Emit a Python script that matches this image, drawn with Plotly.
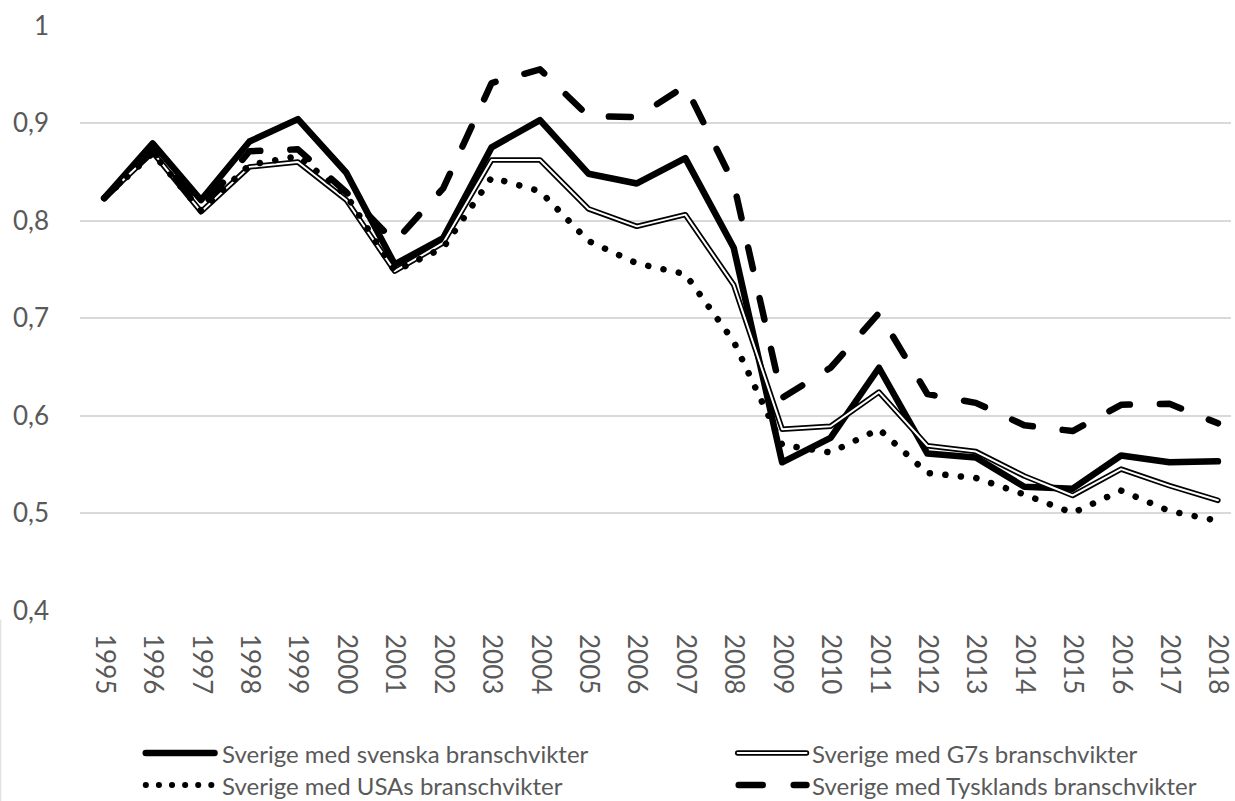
import plotly.graph_objects as go

years = [str(y) for y in range(1995, 2019)]

svenska = [0.823, 0.879, 0.821, 0.881, 0.904, 0.849, 0.755, 0.782, 0.875, 0.903, 0.848, 0.838,
           0.864, 0.772, 0.552, 0.577, 0.649, 0.561, 0.557, 0.527, 0.525, 0.559, 0.552, 0.553]
g7 = [0.823, 0.870, 0.809, 0.855, 0.860, 0.821, 0.748, 0.777, 0.862, 0.862, 0.812, 0.794,
      0.806, 0.734, 0.586, 0.589, 0.624, 0.569, 0.563, 0.538, 0.518, 0.545, 0.528, 0.513]
usa = [0.823, 0.869, 0.810, 0.857, 0.866, 0.826, 0.748, 0.772, 0.844, 0.830, 0.779, 0.756,
       0.745, 0.676, 0.570, 0.562, 0.586, 0.541, 0.536, 0.519, 0.500, 0.523, 0.502, 0.492]
tyskland = [0.823, 0.872, 0.812, 0.871, 0.873, 0.829, 0.778, 0.833, 0.941, 0.955, 0.907, 0.906,
            0.938, 0.838, 0.618, 0.649, 0.705, 0.622, 0.613, 0.590, 0.584, 0.611, 0.612, 0.592]

names = ["Sverige med svenska branschvikter", "Sverige med G7s branschvikter",
         "Sverige med USAs branschvikter", "Sverige med Tysklands branschvikter"]

ytick_vals = [0.4, 0.5, 0.6, 0.7, 0.8, 0.9, 1.0]
ytick_text = ["0,4", "0,5", "0,6", "0,7", "0,8", "0,9", "1"]

FONT = "Lato"
GREY = "#595959"
DOT = "0.1px,15.5px"
DASH = "22px,30px"

fig = go.Figure()
fig.add_trace(go.Scatter(x=years, y=svenska, mode="lines", name=names[0],
                         line=dict(color="black", width=6.5), showlegend=False))
fig.add_trace(go.Scatter(x=years, y=g7, mode="lines", name=names[1],
                         line=dict(color="black", width=5.5), showlegend=False))
fig.add_trace(go.Scatter(x=years, y=g7, mode="lines", name=names[1] + " (inner)",
                         line=dict(color="white", width=2), showlegend=False, hoverinfo="skip"))
fig.add_trace(go.Scatter(x=years, y=usa, mode="lines", name=names[2],
                         line=dict(color="black", width=6.5, dash=DOT), showlegend=False))
fig.add_trace(go.Scatter(x=years, y=tyskland, mode="lines", name=names[3],
                         line=dict(color="black", width=6.5, dash=DASH), showlegend=False))

# plot area geometry (pixels)
L, R, T, B = 80, 1235, 25, 611
W, H = R - L, B - T


def px(x):
    return (x - L) / W


def py(y):
    return (B - y) / H


# manual legend
legend_items = [
    (names[0], 146, 215, 221, 753, "solid", 6.5, None),
    (names[1], 740, 809, 814, 753, "solid", 5.5, "double"),
    (names[2], 146, 213, 221, 785, "0.1px,13px", 6, None),
    (names[3], 741, 809, 814, 785, "24px,31px", 6.5, None),
]
shapes = []
annotations = []
for name, x0, x1, tx, yy, dash, w, kind in legend_items:
    shapes.append(dict(type="line", xref="paper", yref="paper", x0=px(x0), x1=px(x1),
                       y0=py(yy), y1=py(yy), line=dict(color="black", width=w, dash=dash)))
    if kind == "double":
        shapes.append(dict(type="line", xref="paper", yref="paper", x0=px(x0), x1=px(x1),
                           y0=py(yy), y1=py(yy), line=dict(color="white", width=2)))
    annotations.append(dict(text=name, xref="paper", yref="paper", x=px(tx), y=py(yy),
                            xanchor="left", yanchor="middle", showarrow=False, borderpad=0,
                            font=dict(family=FONT, size=24, color=GREY)))

# faint chart border fragment at left edge
shapes.append(dict(type="line", xref="paper", yref="paper", x0=px(0.5), x1=px(0.5),
                   y0=py(620), y1=py(801), line=dict(color="#d9d9d9", width=1)))

fig.update_layout(
    width=1235, height=801, autosize=False,
    margin=dict(l=L, r=1235 - R, t=T, b=801 - B, pad=0),
    paper_bgcolor="white", plot_bgcolor="white",
    showlegend=False,
    shapes=shapes, annotations=annotations,
    font=dict(family=FONT, color=GREY),
    xaxis=dict(type="category", range=[-0.5, 23.27], showgrid=False, zeroline=False,
               showline=False, ticks="", tickangle=90, ticklabelstandoff=22,
               tickfont=dict(family=FONT, size=26, color=GREY)),
    yaxis=dict(range=[0.3995, 1.0005], tickvals=ytick_vals, ticktext=ytick_text,
               showgrid=True, gridcolor="#d9d9d9", gridwidth=1.5, zeroline=False,
               showline=False, ticks="", ticklabelstandoff=30,
               tickfont=dict(family=FONT, size=26, color=GREY)),
)

post = """
document.body.style.margin = '0';
document.body.style.padding = '0';
document.body.style.overflow = 'hidden';
var gd = document.getElementById('{plot_id}');
function rc(){
  gd.querySelectorAll('.scatterlayer path.js-line, .shapelayer path').forEach(function(p){
    p.style.strokeLinecap = 'round';
    p.style.strokeLinejoin = 'round';
  });
}
rc();
gd.on('plotly_afterplot', rc);
"""

fig.write_html("out.html", post_script=post, config={"displayModeBar": False})
